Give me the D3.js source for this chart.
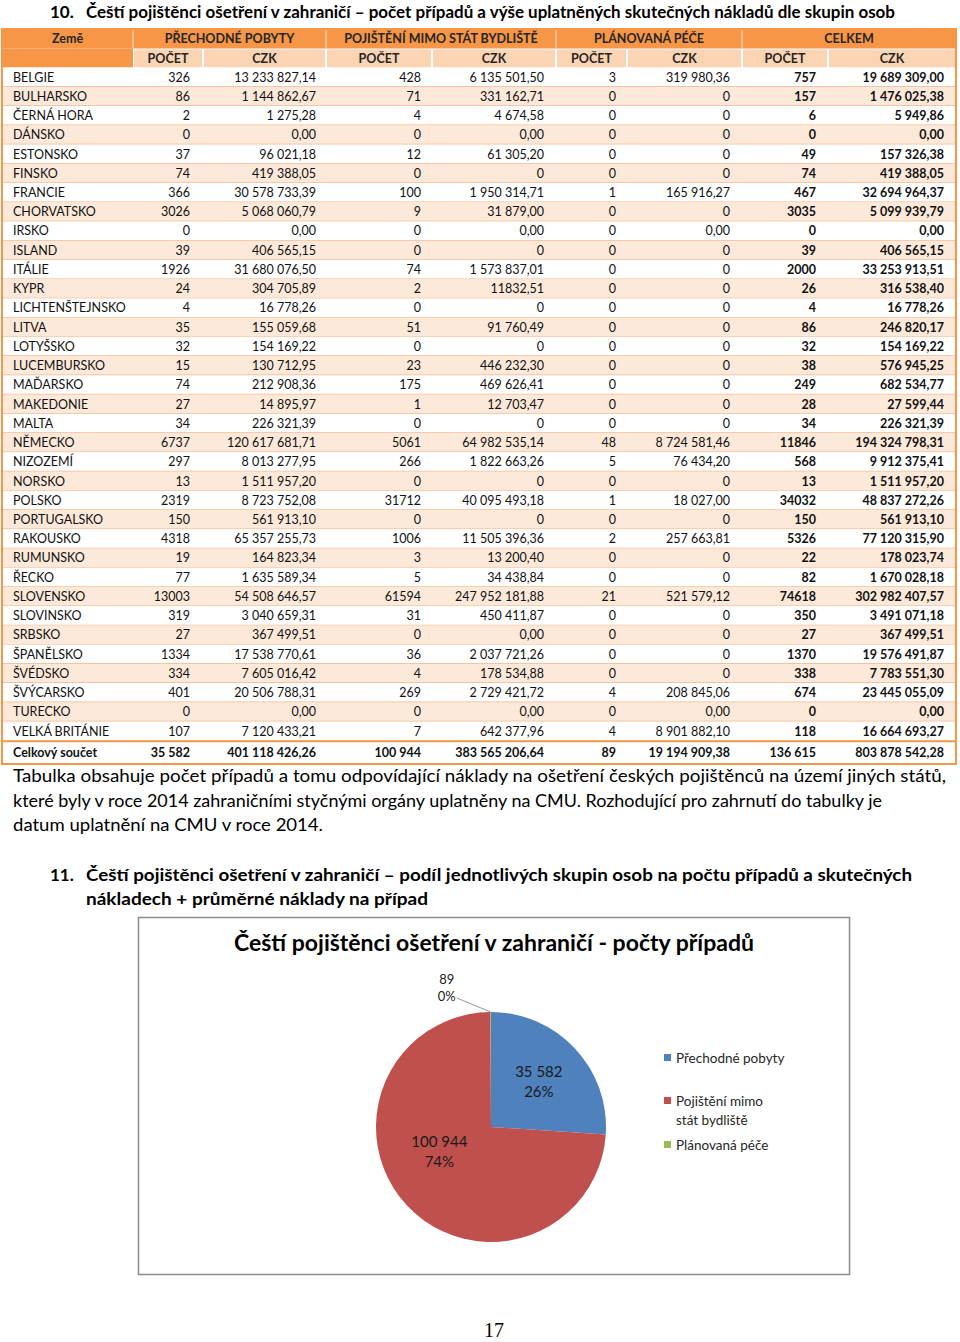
<!DOCTYPE html>
<html><head><meta charset="utf-8">
<script src="https://cdn.jsdelivr.net/npm/d3@7"></script>
<style>
body{margin:0;background:#fff}
svg{display:block}
text{font-family:Lato,'Open Sans',sans-serif}
</style>
</head><body>
<svg id="c" width="960" height="1342"></svg>
<script>
// ---------------- DATA ----------------
const countries=["BELGIE","BULHARSKO","ČERNÁ HORA","DÁNSKO","ESTONSKO","FINSKO","FRANCIE","CHORVATSKO","IRSKO","ISLAND","ITÁLIE","KYPR","LICHTENŠTEJNSKO","LITVA","LOTYŠSKO","LUCEMBURSKO","MAĎARSKO","MAKEDONIE","MALTA","NĚMECKO","NIZOZEMÍ","NORSKO","POLSKO","PORTUGALSKO","RAKOUSKO","RUMUNSKO","ŘECKO","SLOVENSKO","SLOVINSKO","SRBSKO","ŠPANĚLSKO","ŠVÉDSKO","ŠVÝCARSKO","TURECKO","VELKÁ BRITÁNIE"];
const ppCount=["326","86","2","0","37","74","366","3026","0","39","1926","24","4","35","32","15","74","27","34","6737","297","13","2319","150","4318","19","77","13003","319","27","1334","334","401","0","107"];
const ppCzk=["13 233 827,14","1 144 862,67","1 275,28","0,00","96 021,18","419 388,05","30 578 733,39","5 068 060,79","0,00","406 565,15","31 680 076,50","304 705,89","16 778,26","155 059,68","154 169,22","130 712,95","212 908,36","14 895,97","226 321,39","120 617 681,71","8 013 277,95","1 511 957,20","8 723 752,08","561 913,10","65 357 255,73","164 823,34","1 635 589,34","54 508 646,57","3 040 659,31","367 499,51","17 538 770,61","7 605 016,42","20 506 788,31","0,00","7 120 433,21"];
const pmCount=["428","71","4","0","12","0","100","9","0","0","74","2","0","51","0","23","175","1","0","5061","266","0","31712","0","1006","3","5","61594","31","0","36","4","269","0","7"];
const pmCzk=["6 135 501,50","331 162,71","4 674,58","0,00","61 305,20","0","1 950 314,71","31 879,00","0,00","0","1 573 837,01","11832,51","0","91 760,49","0","446 232,30","469 626,41","12 703,47","0","64 982 535,14","1 822 663,26","0","40 095 493,18","0","11 505 396,36","13 200,40","34 438,84","247 952 181,88","450 411,87","0,00","2 037 721,26","178 534,88","2 729 421,72","0,00","642 377,96"];
const plCount=["3","0","0","0","0","0","1","0","0","0","0","0","0","0","0","0","0","0","0","48","5","0","1","0","2","0","0","21","0","0","0","0","4","0","4"];
const plCzk=["319 980,36","0","0","0","0","0","165 916,27","0","0,00","0","0","0","0","0","0","0","0","0","0","8 724 581,46","76 434,20","0","18 027,00","0","257 663,81","0","0","521 579,12","0","0","0","0","208 845,06","0,00","8 901 882,10"];
const totCount=["757","157","6","0","49","74","467","3035","0","39","2000","26","4","86","32","38","249","28","34","11846","568","13","34032","150","5326","22","82","74618","350","27","1370","338","674","0","118"];
const totCzk=["19 689 309,00","1 476 025,38","5 949,86","0,00","157 326,38","419 388,05","32 694 964,37","5 099 939,79","0,00","406 565,15","33 253 913,51","316 538,40","16 778,26","246 820,17","154 169,22","576 945,25","682 534,77","27 599,44","226 321,39","194 324 798,31","9 912 375,41","1 511 957,20","48 837 272,26","561 913,10","77 120 315,90","178 023,74","1 670 028,18","302 982 407,57","3 491 071,18","367 499,51","19 576 491,87","7 783 551,30","23 445 055,09","0,00","16 664 693,27"];
const totalLabel="Celkový součet";
const totalRow=["35 582","401 118 426,26","100 944","383 565 206,64","89","19 194 909,38","136 615","803 878 542,28"];
const groupHeaders=["Země","PŘECHODNÉ POBYTY","POJIŠTĚNÍ MIMO STÁT BYDLIŠTĚ","PLÁNOVANÁ PÉČE","CELKEM"];
const subHeaders=["POČET","CZK","POČET","CZK","POČET","CZK","POČET","CZK"];

const title10="Čeští pojištěnci ošetření v zahraničí – počet případů a výše uplatněných skutečných nákladů dle skupin osob";
const paragraph=["Tabulka obsahuje počet případů a tomu odpovídající náklady na ošetření českých pojištěnců na území jiných států,",
"které byly v roce 2014 zahraničními styčnými orgány uplatněny na CMU. Rozhodující pro zahrnutí do tabulky je",
"datum uplatnění na CMU v roce 2014."];
const title11=["Čeští pojištěnci ošetření v zahraničí – podíl jednotlivých skupin osob na počtu případů a skutečných","nákladech + průměrné náklady na případ"];

const chartTitle="Čeští pojištěnci ošetření v zahraničí - počty případů";
const pieCategories=["Přechodné pobyty","Pojištění mimo stát bydliště","Plánovaná péče"];
const legendLines=[["Přechodné pobyty"],["Pojištění mimo","stát bydliště"],["Plánovaná péče"]];
const pieValues=[35582,100944,89];
const pieColors=["#4F81BD","#C0504D","#9BBB59"];
const pageNumber="17";

// ---------------- DRAW ----------------
const svg=d3.select("#c");
svg.append("rect").attr("width",960).attr("height",1342).attr("fill","#fff");

const ORANGE="#F79646", LIGHT="#FBD4B4", BAND="#FDE9D9", LINE="#F6B68A";
const colEdges=[2,133,203,326,432,556,627,742,828,956];
const rightPad=[13,10,11,12,11,12,12,12];
const groupSpans=[[0,1],[1,3],[3,5],[5,7],[7,9]];
const FS=12.5;

// heading 10
svg.append("text").attr("x",50).attr("y",18).attr("font-size",17).attr("font-weight",700).attr("fill","#000").text("10.");
svg.append("text").attr("x",86).attr("y",18).attr("font-size",17).attr("font-weight",700).attr("fill","#000")
  .attr("textLength",809).attr("lengthAdjust","spacingAndGlyphs").text(title10);

// table header
const hTop=29, hMid=48.5, hBot=67.5;
const tbl=svg.append("g");
tbl.append("rect").attr("x",2).attr("y",hTop).attr("width",954).attr("height",hMid-hTop).attr("fill",ORANGE);
tbl.append("rect").attr("x",2).attr("y",hMid).attr("width",131).attr("height",hBot-hMid).attr("fill",ORANGE);
subHeaders.forEach((s,j)=>{
  tbl.append("rect").attr("x",colEdges[j+1]+1).attr("y",hMid+1).attr("width",colEdges[j+2]-colEdges[j+1]-2).attr("height",hBot-hMid-1).attr("fill",LIGHT);
});
groupSpans.slice(1).forEach(([a])=>{
  tbl.append("line").attr("x1",colEdges[a]).attr("x2",colEdges[a]).attr("y1",hTop).attr("y2",hMid).attr("stroke","#FAC9A4").attr("stroke-width",1.5);
});
groupHeaders.forEach((g,k)=>{
  const [a,b]=groupSpans[k];
  tbl.append("text").attr("x",(colEdges[a]+colEdges[b])/2).attr("y",(hTop+hMid)/2).attr("dy","0.36em")
    .attr("text-anchor","middle").attr("font-size",FS).attr("font-weight",700).attr("fill","#262626").text(g);
});
subHeaders.forEach((s,j)=>{
  tbl.append("text").attr("x",(colEdges[j+1]+colEdges[j+2])/2).attr("y",(hMid+hBot)/2).attr("dy","0.36em")
    .attr("text-anchor","middle").attr("font-size",FS).attr("font-weight",700).attr("fill","#262626").text(s);
});

// data rows
const rowY=d3.scaleBand().domain(d3.range(countries.length)).range([hBot,740.7]);
const cols=[ppCount,ppCzk,pmCount,pmCzk,plCount,plCzk,totCount,totCzk];
const rows=tbl.selectAll("g.row").data(countries).join("g").attr("class","row")
  .attr("transform",(d,i)=>`translate(0,${rowY(i)})`);
rows.append("rect").attr("x",2).attr("width",954).attr("height",rowY.bandwidth())
  .attr("fill",(d,i)=>i%2? BAND:"#fff");
rows.append("line").attr("x1",2).attr("x2",956).attr("y1",rowY.bandwidth()).attr("y2",rowY.bandwidth())
  .attr("stroke",LINE).attr("stroke-width",1.3);
rows.append("text").attr("x",13).attr("y",rowY.bandwidth()/2).attr("dy","0.36em")
  .attr("font-size",FS).attr("fill","#111").text(d=>d);
cols.forEach((arr,j)=>{
  rows.append("text").attr("x",colEdges[j+2]-rightPad[j]).attr("y",rowY.bandwidth()/2).attr("dy","0.36em")
    .attr("text-anchor","end").attr("font-size",FS).attr("font-weight",j>=6?700:400).attr("fill","#111")
    .text((d,i)=>arr[i]);
});

// total row
const tTop=741.5, tBot=764;
tbl.append("rect").attr("x",2).attr("y",tTop).attr("width",954).attr("height",tBot-tTop).attr("fill","#fff")
  .attr("stroke",ORANGE).attr("stroke-width",1.5);
tbl.append("text").attr("x",13).attr("y",(tTop+tBot)/2).attr("dy","0.36em").attr("font-size",FS).attr("font-weight",700).attr("fill","#111").text(totalLabel);
totalRow.forEach((v,j)=>{
  tbl.append("text").attr("x",colEdges[j+2]-rightPad[j]).attr("y",(tTop+tBot)/2).attr("dy","0.36em")
    .attr("text-anchor","end").attr("font-size",FS).attr("font-weight",700).attr("fill","#111").text(v);
});
tbl.append("rect").attr("x",2).attr("y",hTop).attr("width",954).attr("height",tBot-hTop)
  .attr("fill","none").attr("stroke",ORANGE).attr("stroke-width",2);

// paragraph
const pWidths=[933,869,310];
paragraph.forEach((t,i)=>{
  svg.append("text").attr("x",13).attr("y",782+i*24.5).attr("font-size",18).attr("fill","#000")
    .attr("textLength",pWidths[i]).attr("lengthAdjust","spacingAndGlyphs").text(t);
});

// heading 11
svg.append("text").attr("x",50).attr("y",881).attr("font-size",17).attr("font-weight",700).attr("fill","#000").text("11.");
const h11W=[826,342];
title11.forEach((t,i)=>{
  svg.append("text").attr("x",86).attr("y",881+i*24).attr("font-size",17).attr("font-weight",700).attr("fill","#000")
    .attr("textLength",h11W[i]).attr("lengthAdjust","spacingAndGlyphs").text(t);
});

// chart box
svg.append("rect").attr("x",138.5).attr("y",917.5).attr("width",711).attr("height",357)
  .attr("fill","#fff").attr("stroke","#8C8C8C").attr("stroke-width",1.5);
svg.append("text").attr("x",234).attr("y",951).attr("font-size",23).attr("font-weight",700).attr("fill","#000")
  .attr("textLength",520).attr("lengthAdjust","spacingAndGlyphs").text(chartTitle);

// pie
const cx=491, cy=1127, R=115;
const total=d3.sum(pieValues);
const pie=d3.pie().sort(null).value(d=>d)(pieValues);
const arc=d3.arc().innerRadius(0).outerRadius(R);
const gP=svg.append("g").attr("transform",`translate(${cx},${cy})`);
gP.selectAll("path").data(pie).join("path").attr("d",arc).attr("fill",(d,i)=>pieColors[i]);

const loc=d3.formatLocale({decimal:",",thousands:"\u00a0",grouping:[3],currency:["",""]});
const fmt=loc.format(",d");
const pct=v=>Math.round(v/total*100)+"%";

// best-fit style label radius (fraction of R) per slice
const labelRadius=[0.57,0.45,1];
pie.forEach((d,i)=>{
  if(d.value/total<0.05){
    const mid=(d.startAngle+d.endAngle)/2;
    const px=Math.sin(mid)*R, py=-Math.cos(mid)*R;
    gP.append("line").attr("x1",px-34).attr("y1",py-14).attr("x2",px).attr("y2",py).attr("stroke","#7F7F7F").attr("stroke-width",0.8);
    gP.append("text").attr("x",px-44).attr("y",py-28).attr("text-anchor","middle").attr("font-size",13).attr("fill","#1a1a1a").text(fmt(d.value));
    gP.append("text").attr("x",px-44).attr("y",py-11).attr("text-anchor","middle").attr("font-size",13).attr("fill","#1a1a1a").text(pct(d.value));
  } else {
    const la=d3.arc().innerRadius(R*labelRadius[i]).outerRadius(R*labelRadius[i]);
    let [lx,ly]=la.centroid(d);
    if(i===1){ // large slice: label shifted toward the horizontal axis as in the original
      const a=(d.startAngle+d.endAngle)/2+0.3;
      lx=Math.sin(a)*R*0.5; ly=-Math.cos(a)*R*0.5;
    }
    gP.append("text").attr("x",lx).attr("y",ly-5).attr("text-anchor","middle").attr("font-size",15).attr("fill","#1a1a1a").text(fmt(d.value));
    gP.append("text").attr("x",lx).attr("y",ly+15).attr("text-anchor","middle").attr("font-size",15).attr("fill","#1a1a1a").text(pct(d.value));
  }
});

// legend
const legY=[1058,1101,1145];
legendLines.forEach((lines,i)=>{
  svg.append("rect").attr("x",664).attr("y",legY[i]-4).attr("width",7).attr("height",7).attr("fill",pieColors[i]);
  lines.forEach((t,k)=>{
    svg.append("text").attr("x",676).attr("y",legY[i]+k*19).attr("dy","0.35em").attr("font-size",13.5).attr("fill","#262626").text(t);
  });
});

// page number
svg.append("text").attr("x",494).attr("y",1337).attr("text-anchor","middle")
  .style("font-family","'Liberation Serif','Times New Roman',serif").attr("font-size",20).attr("fill","#000").text(pageNumber);
</script>
</body></html>
